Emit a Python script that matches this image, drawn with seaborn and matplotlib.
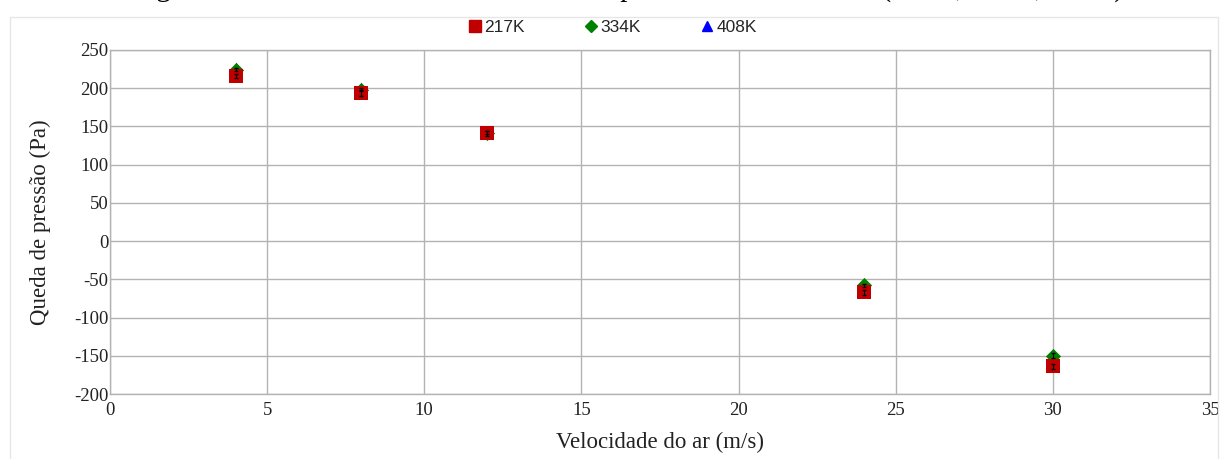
import matplotlib
matplotlib.use("Agg")
import matplotlib.pyplot as plt
from matplotlib.lines import Line2D
from matplotlib.patches import Rectangle
import seaborn as sns
import pandas as pd

# Mesh independence test: pressure drop vs. air velocity for three meshes
velocidade = [4, 8, 12, 24, 30]
queda_217k = [216, 194, 141, -67, -164]
queda_334k = [224, 198, 142, -58, -150]
queda_408k = [226, 200, 143, -56, -149]
erro_217k = [3, 4, 3, 3, 3]
erro_334k = [2, 2, 2, 2, 3]
malhas = ["217K", "334K", "408K"]
x_ticks = [0, 5, 10, 15, 20, 25, 30, 35]
y_ticks = [-200, -150, -100, -50, 0, 50, 100, 150, 200, 250]

cores = {"217K": "#c00000", "334K": "#008000", "408K": "#0000ff"}
marcadores = {"217K": "s", "334K": "D", "408K": "^"}
tamanhos = {"217K": 110, "334K": 60, "408K": 70}

# long-form table; finest mesh first so the coarse mesh sits on top
rows = []
for nome, vals in (("408K", queda_408k), ("334K", queda_334k), ("217K", queda_217k)):
    for v, q in zip(velocidade, vals):
        rows.append({"Velocidade": v, "Queda": q, "Malha": nome})
df = pd.DataFrame(rows)

sns.set_theme(style="white")
plt.rcParams["font.family"] = ["Liberation Serif", "DejaVu Serif"]
plt.rcParams["axes.unicode_minus"] = False

fig = plt.figure(figsize=(12.30, 4.59), dpi=100)
fig.patch.set_facecolor("white")
ax = fig.add_axes([0.0894, 0.1416, 0.8943, 0.7495])

# outer chart frame
fig.patches.append(Rectangle((10 / 1230, -0.01), 1208 / 1230, 1 - 17 / 459 + 0.01,
                             transform=fig.transFigure, fill=False,
                             edgecolor="#e6e6e6", linewidth=1.0, zorder=0))

for nome in ["408K", "334K", "217K"]:
    sub = df[df["Malha"] == nome]
    sns.scatterplot(data=sub, x="Velocidade", y="Queda", color=cores[nome],
                    marker=marcadores[nome], s=tamanhos[nome], linewidth=0,
                    ax=ax, legend=False, zorder=3)

ax.errorbar(velocidade, queda_334k, yerr=erro_334k, fmt="none", ecolor="black",
            elinewidth=0.8, capsize=1.5, zorder=4)
ax.errorbar(velocidade, queda_217k, yerr=erro_217k, fmt="none", ecolor="black",
            elinewidth=0.8, capsize=1.5, zorder=4)

ax.set_xlim(0, 35)
ax.set_ylim(-200, 250)
ax.set_xticks(x_ticks)
ax.set_yticks(y_ticks)
ax.grid(True, color="#b3b3b3", linewidth=1.0)
ax.set_axisbelow(True)
for sp in ax.spines.values():
    sp.set_color("#b3b3b3")
    sp.set_linewidth(1.0)
ax.tick_params(axis="y", length=0, labelsize=13.5, pad=1)
ax.tick_params(axis="x", length=0, labelsize=13.5, pad=6)
for lab in ax.get_xticklabels() + ax.get_yticklabels():
    lab.set_color("#222222")

ax.set_xlabel("Velocidade do ar (m/s)", fontsize=16.5, color="#222222", labelpad=9)
ax.set_ylabel("Queda de pressão (Pa)", fontsize=16.5, color="#222222", labelpad=17)

handles = [Line2D([], [], linestyle="none", marker=marcadores[m], color=cores[m],
                  markersize={"217K": 8, "334K": 6, "408K": 7}[m]) for m in malhas]
leg = fig.legend(handles, malhas, loc="center", bbox_to_anchor=(0.497, 1 - 27.5 / 459),
                 ncol=3, frameon=False, handletextpad=0.05, columnspacing=3.3,
                 handlelength=1.0, prop={"family": "Liberation Sans", "size": 12.5})

# caption of the surrounding document, clipped by the top edge
fig.text(1131 / 1230, 1 + 4 / 459,
         "Figura 5.6 – Resultados dos testes de independência das malhas (217K, 334K, 408K).",
         ha="right", va="baseline", fontsize=21, color="black",
         family="Liberation Serif")

fig.savefig("out.png", dpi=100, facecolor="white")
